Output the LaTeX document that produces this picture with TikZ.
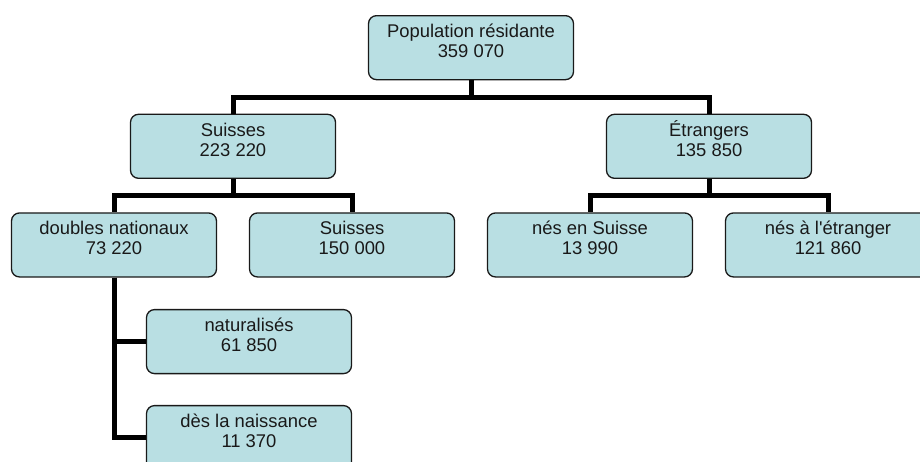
\documentclass[tikz,border=0pt]{standalone}
\usepackage{fontspec}
\setmainfont{Liberation Sans}
\usetikzlibrary{trees}
\definecolor{boxfill}{RGB}{185,223,227}

\begin{document}
\begin{tikzpicture}[x=1pt,y=1pt,
	orgbox/.style={rectangle,rounded corners=8pt,draw=black!90,line width=1.3pt,fill=boxfill,
		minimum width=205pt,inner xsep=2pt,inner ysep=0pt,text height=42pt,text depth=22pt,
		align=center,anchor=north,font=\fontsize{18.4}{20}\selectfont,text=black!90},
	edge from parent/.style={draw,line width=5pt,black},
	edge from parent path={(\tikzparentnode.south) -- ++(0,-17) -| (\tikzchildnode.north)},
	level 1/.style={sibling distance=476pt,level distance=66pt},
	level 2/.style={sibling distance=238pt,level distance=66pt},
	level 3/.style={grow via three points={one child at (135,-64) and two children at (135,-64) and (135,-160)},
		edge from parent path={(\tikzparentnode.south) |- (\tikzchildnode.west)}}]
	\useasboundingbox (0,0) rectangle (920,-461);
	\clip (0,0) rectangle (920,-461);
	\node [orgbox] (pop) at (471,-15) {Population résidante\\359 070}
	child {node [orgbox] (sui) {Suisses\\223 220}
		child {node [orgbox] (dbl) {doubles nationaux\\73 220}
			child {node [orgbox] (nat) {naturalisés\\61 850}}
			child {node [orgbox] (nais) {dès la naissance\\11 370}}
		}
		child {node [orgbox] (sui2) {Suisses\\150 000}}
	}
	child {node [orgbox] (etr) {Étrangers\\135 850} % branche des étrangers
		child {node [orgbox] (nesch) {nés en Suisse\\13 990}}
		child {node [orgbox] (nesetr) {nés à l\textquotesingle étranger\\121 860}}
	};
\end{tikzpicture}
\end{document}
